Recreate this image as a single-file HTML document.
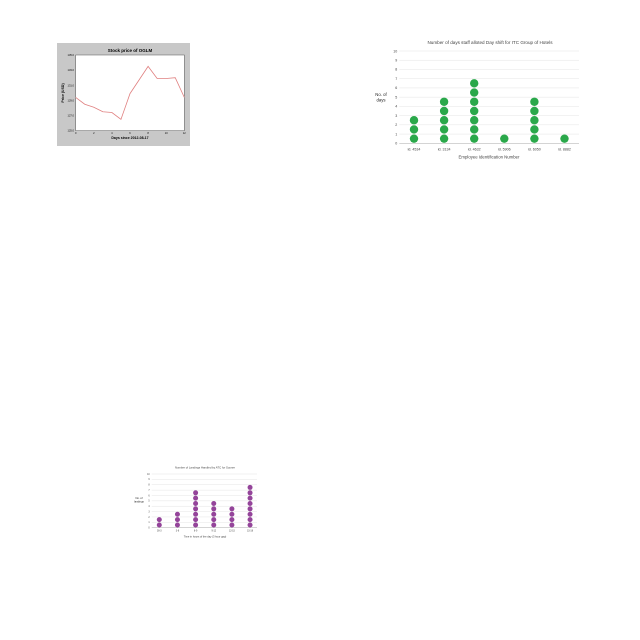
<!DOCTYPE html>
<html><head><meta charset="utf-8"><style>
body{margin:0;background:#fff}
svg{display:block;font-family:"Liberation Sans",sans-serif}
</style></head><body>
<svg id="s" width="640" height="640" viewBox="0 0 640 640">
<rect width="640" height="640" fill="#fff"/>
<!-- stock chart -->
<g id="c1">
<rect x="57" y="43" width="133" height="103" fill="#c8c8c8"/>
<rect x="75.7" y="55" width="108.6" height="75.7" fill="#fff" stroke="#555" stroke-width="0.5"/>
<text x="130" y="52" font-size="4.5" font-weight="bold" text-anchor="middle">Stock price of OGLM</text>
<text x="130" y="139" font-size="3.5" font-weight="bold" text-anchor="middle">Days since 2012-08-17</text>
<text x="64" y="93" font-size="3.5" font-weight="bold" text-anchor="middle" transform="rotate(-90 64 93)">Price (USD)</text>
</g>
<g id="c2">
<text x="490" y="44" font-size="4.6" fill="#444" text-anchor="middle">Number of days staff alloted Day shift for ITC Group of Hotels</text>
<text x="489" y="158.5" font-size="4.3" fill="#444" text-anchor="middle">Employee Identification Number</text>
<text x="381" y="96" font-size="4.3" fill="#222" text-anchor="middle"><tspan x="381">No. of</tspan><tspan x="381" dy="5.5">days</tspan></text>
</g>
<g id="c3">
<text x="205" y="468.5" font-size="2.8" fill="#444" text-anchor="middle">Number of Landings Handled by ATC for Sooner</text>
<text x="205" y="537.5" font-size="2.6" fill="#444" text-anchor="middle">Time in hours of the day (3 hour gap)</text>
<text x="139" y="499" font-size="2.6" fill="#222" text-anchor="middle"><tspan x="139">No. of</tspan><tspan x="139" dy="3.3">landings</tspan></text>
</g>
</svg>
<script>
const stockDays=[0,1,2,3,4,5,6,7,8,9,10,11,12];
const stockPrices=[129.4,128.5,128.1,127.5,127.4,126.5,129.9,131.7,133.5,131.9,131.9,132.0,129.4];
const stockYTicks=[125,127,129,131,133,135];
const stockXTicks=[0,2,4,6,8,10,12];
const shiftCats=["id. 4534","id. 3134","id. 4632","id. 5906","id. 6050","id. 8882"];
const shiftVals=[3,5,7,1,5,1];
const shiftYTicks=[0,1,2,3,4,5,6,7,8,9,10];
const landCats=["00-3","3-6","6-9","9-12","12-15","15-18"];
const landVals=[2,3,7,5,4,8];
const landYTicks=[0,1,2,3,4,5,6,7,8,9,10];
const NS="http://www.w3.org/2000/svg";
function mk(p,t,a){const e=document.createElementNS(NS,t);for(const k in a)e.setAttribute(k,a[k]);p.appendChild(e);return e;}
// chart 1
(function(){const g=document.getElementById('c1');
const x=v=>75.7+v/12*108.6, y=v=>130.7-(v-125)/10*75.7;
stockYTicks.forEach(t=>{const e=mk(g,'text',{x:74,y:y(t)+1,'font-size':2.6,'text-anchor':'end'});e.textContent=t.toFixed(1);

});
stockXTicks.forEach(t=>{const e=mk(g,'text',{x:x(t),y:134,'font-size':2.6,'text-anchor':'middle'});e.textContent=t;

});
const l=mk(g,'polyline',{points:stockDays.map((d,i)=>x(d)+','+y(stockPrices[i])).join(' '),fill:'none',stroke:'#e08080','stroke-width':0.8});

})();
function dots(id,cats,vals,ticks,o){const g=document.getElementById(id);
const y=v=>o.y0-v*o.u, x=i=>o.x0+i*o.dx;
ticks.forEach(t=>{if(t>0){const ln=mk(g,'line',{x1:o.ax,x2:o.right,y1:y(t),y2:y(t),stroke:'#e4e4e4','stroke-width':0.5});

}
const e=mk(g,'text',{x:o.ax-2,y:y(t)+o.fs*0.35,'font-size':o.fs,fill:'#444','text-anchor':'end'});e.textContent=t;

});
const ax=mk(g,'line',{x1:o.ax,x2:o.right,y1:o.y0,y2:o.y0,stroke:'#bbb','stroke-width':0.6});


cats.forEach((c,i)=>{const e=mk(g,'text',{x:x(i),y:o.ly,'font-size':o.fs,fill:'#444','text-anchor':'middle'});e.textContent=c;


for(let k=0;k<vals[i];k++){const d=mk(g,'circle',{cx:x(i),cy:y(k+0.5),r:o.r,fill:o.c});

}});}
dots('c2',shiftCats,shiftVals,shiftYTicks,{x0:414,dx:30.1,y0:143.3,u:9.23,ax:399.3,right:579,r:4.2,c:'#2aa84a',fs:3.6,ly:150.5});
dots('c3',landCats,landVals,landYTicks,{x0:159.3,dx:18.15,y0:527.7,u:5.37,ax:151.7,right:257,r:2.5,c:'#94449a',fs:2.3,ly:531.5});
</script>
</body></html>
